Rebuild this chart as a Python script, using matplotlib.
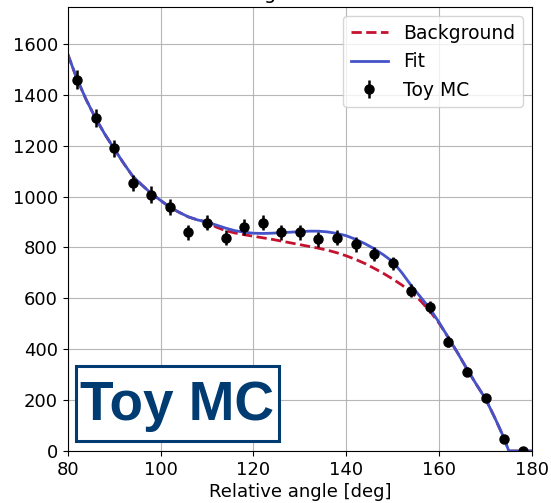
import numpy as np
import matplotlib
matplotlib.use('Agg')
import matplotlib.pyplot as plt
from matplotlib.patches import Rectangle

# ── toy MC points ──
angle = [82, 86, 90, 94, 98, 102, 106, 110, 114, 118, 122, 126, 130,
         134, 138, 142, 146, 150, 154, 158, 162, 166, 170, 174, 178]
counts = [1460, 1308, 1190, 1052, 1008, 958, 859, 898, 839, 880, 898, 859, 859,
          832, 839, 813, 773, 737, 630, 567, 430, 311, 209, 47, 0]
errors = [38, 36, 34, 32, 32, 31, 29, 30, 29, 30, 30, 29, 29,
          29, 29, 29, 28, 27, 25, 24, 21, 18, 14, 7, 0]

# ── fitted curves ──
curve_x = [80, 82, 84, 86, 88, 90, 92, 94, 96, 98, 100, 102, 104, 106, 108, 110,
           112, 114, 116, 118, 120, 122, 124, 126, 128, 130, 132, 134, 136, 138,
           140, 142, 144, 146, 148, 150, 152, 154, 156, 158, 160, 162, 164, 166,
           168, 170, 172, 174, 175, 176, 178, 180]
fit_y = [1560, 1462, 1380, 1308, 1245, 1188, 1132, 1080, 1045, 1012, 985, 958,
         938, 920, 908, 900, 888, 876, 866, 860, 856, 855, 856, 858, 860, 862,
         864, 864, 861, 855, 846, 832, 815, 795, 771, 744, 700, 650, 605, 560,
         505, 445, 385, 322, 262, 205, 130, 50, 0, 0, 0, 0]
bkg_y = [1560, 1462, 1380, 1308, 1245, 1188, 1132, 1080, 1045, 1012, 985, 958,
         938, 920, 908, 900, 880, 866, 857, 850, 844, 838, 832, 825, 818, 811,
         804, 797, 789, 779, 767, 753, 737, 718, 698, 676, 652, 624, 590, 550,
         502, 445, 385, 322, 262, 205, 130, 50, 0, 0, 0, 0]

fig = plt.figure(figsize=(5.51, 5.03), dpi=100)
ax = fig.add_axes([67.7 / 551, 52 / 503, (532 - 67.7) / 551, (451 - 7) / 503])

ax.plot(curve_x, bkg_y, '--', color='#c4122f', linewidth=2, label='Background')
ax.plot(curve_x, fit_y, '-', color='#4453c8', linewidth=2, label='Fit')
ax.errorbar(angle, counts, yerr=errors, fmt='o', color='black', markersize=6.5,
            elinewidth=1.8, capsize=0, label='Toy MC')

ax.set_xlim(80, 180)
ax.set_ylim(0, 1745)
ax.set_xticks(np.arange(80, 181, 20))
ax.set_yticks(np.arange(0, 1601, 200))
ax.tick_params(labelsize=13)
ax.set_xlabel('Relative angle [deg]', fontsize=13, labelpad=3)
# title sits mostly above the figure edge, as in the reference
ax.set_title('Signal fit', fontsize=14, x=0.476)
ax.grid(True, alpha=0.9)
ax.set_axisbelow(True)

# "Toy MC" badge
ax.add_patch(Rectangle((0.018, 0.0225), 0.437, 0.169, transform=ax.transAxes,
                       facecolor='white', edgecolor='#003b71', linewidth=2.2,
                       zorder=5))
ax.text(0.2344, 0.07, 'Toy MC', transform=ax.transAxes, fontsize=39.5,
        fontweight='bold', family='Liberation Sans', color='#003b71',
        va='baseline', ha='center', zorder=6)

ax.legend(loc='upper right', fontsize=13.5)

plt.savefig('out.png', dpi=100)
plt.close()
